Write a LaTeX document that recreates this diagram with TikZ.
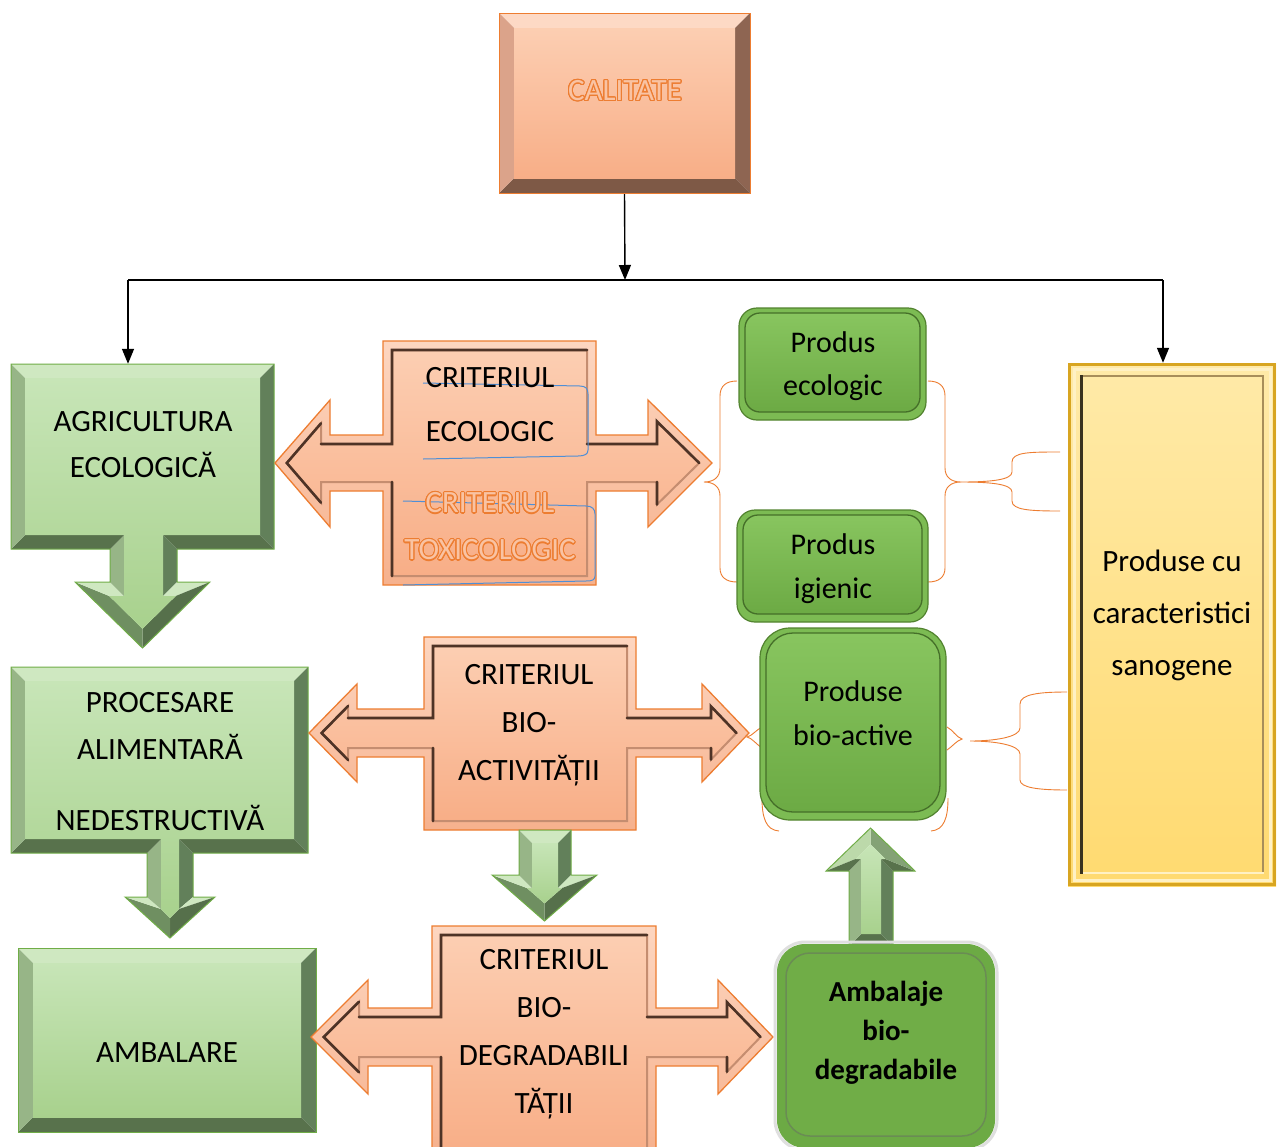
\documentclass[tikz,border=0pt]{standalone}
\usepackage{fontspec}
\setmainfont{Carlito}
\usepackage[copies]{contour}
\contourlength{1.1pt}
\contournumber{20}
\usetikzlibrary{arrows.meta}
% peach
\definecolor{pkFT}{HTML}{FCCEB2}
\definecolor{pkFB}{HTML}{F8AE87}
\definecolor{pkTop}{HTML}{FDD9C5}
\definecolor{pkLeft}{HTML}{DBA38A}
\definecolor{pkRight}{HTML}{8E6552}
\definecolor{pkBot}{HTML}{7E5946}
\definecolor{pkLine}{HTML}{ED7D31}
\definecolor{bandT}{HTML}{FDD6C0}
\definecolor{bandB}{HTML}{F6B18D}
\definecolor{stepD}{HTML}{4E3326}
\definecolor{stepM}{HTML}{C58D70}
\definecolor{orIn}{HTML}{F9C3A3}
% green bevel
\definecolor{gFT}{HTML}{C7E5B7}
\definecolor{gFB}{HTML}{A8D18D}
\definecolor{gTop}{HTML}{CFE8C1}
\definecolor{gLeft}{HTML}{97B587}
\definecolor{gRight}{HTML}{62805A}
\definecolor{gBot}{HTML}{58724C}
\definecolor{gDiagL}{HTML}{6F8F61}
\definecolor{gDiagR}{HTML}{56704B}
\definecolor{gUL}{HTML}{BCD9AA}
\definecolor{gUR}{HTML}{84A276}
\definecolor{gLine}{HTML}{70AD47}
% green buttons
\definecolor{gPo}{HTML}{7CBB53}
\definecolor{gPb}{HTML}{52832F}
\definecolor{gPt}{HTML}{88C55F}
\definecolor{gPm}{HTML}{6CAA44}
\definecolor{gPd}{HTML}{456F29}
% yellow
\definecolor{yT}{HTML}{FFEAA8}
\definecolor{yB}{HTML}{FFDA70}
\definecolor{yBord}{HTML}{D8A521}
\definecolor{yDark}{HTML}{3A321E}
\definecolor{yMid}{HTML}{A88E5A}
\definecolor{yLight}{HTML}{FFF1C4}
\definecolor{blueL}{HTML}{4F8FD6}

% ---- mitred facets
\newcommand\fq[5]{\fill[#1] #2 -- #3 -- #4 -- #5 -- cycle;}
\newcommand\bevrect[6]{%
 \fq{#6Top}{(#1,#2)}{(#3,#2)}{({#3-#5},{#2+#5})}{({#1+#5},{#2+#5})}
 \fq{#6Right}{(#3,#2)}{(#3,#4)}{({#3-#5},{#4-#5})}{({#3-#5},{#2+#5})}
 \fq{#6Bot}{(#3,#4)}{(#1,#4)}{({#1+#5},{#4-#5})}{({#3-#5},{#4-#5})}
 \fq{#6Left}{(#1,#4)}{(#1,#2)}{({#1+#5},{#2+#5})}{({#1+#5},{#4-#5})}
 \shade[top color=#6FT,bottom color=#6FB] ({#1+#5},{#2+#5}) rectangle ({#3-#5},{#4-#5});
 \draw[#6Line,line width=1pt] (#1,#2) rectangle (#3,#4);}
% criteria double arrow: uses coordinates o1..o18 (outer) and i1..i18 (inner)
\newcommand\opath{(o1) -- (o2) -- (o3) -- (o4) -- (o5) -- (o6) -- (o7) -- (o8) -- (o9) -- (o10) -- (o11) -- (o12) -- (o13) -- (o14) -- (o15) -- (o16) -- (o17) -- (o18) -- cycle}
\newcommand\ipath{(i1) -- (i2) -- (i3) -- (i4) -- (i5) -- (i6) -- (i7) -- (i8) -- (i9) -- (i10) -- (i11) -- (i12) -- (i13) -- (i14) -- (i15) -- (i16) -- (i17) -- (i18) -- cycle}
\newcommand\critdraw{%
  \shade[top color=bandT,bottom color=bandB] \opath;
  \shade[top color=pkFT,bottom color=pkFB] \ipath;
  \draw[stepM,line width=2pt] \ipath;
  \draw[stepD,line width=2.6pt,line cap=round,line join=miter] (i17) -- (i18) -- (i1) -- (i2) (i3) -- (i4) -- (i5) -- (i6) (i7) -- (i8) (i11) -- (i12) (i14) -- (i15) -- (i16);
  \draw[pkLine,line width=1.3pt] \opath;}
\newcommand\setpts[2]{\foreach \n/\p in {#2} {\path \p coordinate (#1\n);}}
\newcommand\pbutton[5]{% x1 y1 x2 y2 radius
  \fill[gPo,rounded corners=#5] (#1,#2) rectangle (#3,#4);
  \draw[gPb,line width=1.2pt,rounded corners=#5] (#1,#2) rectangle (#3,#4);
  \shade[top color=gPt,bottom color=gPm,rounded corners=#5-3pt] ({#1+6},{#2+5}) rectangle ({#3-6},{#4-8});
  \draw[gPd,line width=1.3pt,rounded corners=#5-3pt] ({#1+6},{#2+5}) rectangle ({#3-6},{#4-8});}
\newcommand\ortext[1]{\contour{pkLine}{\textcolor{orIn}{#1}}}

\begin{document}
\begin{tikzpicture}[x=1pt,y=-1pt,
  txt/.style={font=\fontsize{31}{48}\selectfont,align=center,inner sep=0pt,text=black},
  geo/.style={inner sep=0pt,draw=none},
  conn/.style={line width=1.4pt,-{Triangle[width=12pt,length=15pt]}},
  brace/.style={pkLine,line width=0.9pt},
  blue/.style={blueL,line width=1pt}]
\useasboundingbox (0,0) rectangle (1277,1146);
\fill[white] (0,0) rectangle (1277,1146);

% geometry nodes
\node[geo,minimum width=251pt,minimum height=180pt] (cal) at (624.5,103) {};
\node[geo,minimum width=263pt,minimum height=186pt] (agri) at (142.5,457) {};
\node[geo,minimum width=208pt,minimum height=523pt] (sano) at (1172,624.5) {};
\coordinate (bus) at (625,280);
\coordinate (busL) at (128,280);
\coordinate (busR) at (1163,280);

% braces (behind boxes)
\draw[brace] (737,381) .. controls (726,381) and (720,386) .. (720,396) -- (720,468) .. controls (720,477) and (714,482) .. (704,482) .. controls (714,482) and (720,487) .. (720,496) -- (720,568) .. controls (720,577) and (726,582) .. (737,582);
\draw[brace] (928,381) .. controls (939,381) and (945,386) .. (945,396) -- (945,468) .. controls (945,477) and (951,482) .. (961,482) .. controls (951,482) and (945,487) .. (945,496) -- (945,568) .. controls (945,577) and (939,582) .. (928,582);
\draw[brace] (1060,452) .. controls (1030,452) and (1012,452) .. (1012,462) -- (1012,472) .. controls (1012,480) and (990,482) .. (961,482) .. controls (990,482) and (1012,484) .. (1012,492) -- (1012,501) .. controls (1012,510) and (1030,511) .. (1060,511);
\draw[brace] (762,727) .. controls (756,730) and (752,736) .. (747,737) .. controls (752,738) and (756,744) .. (762,748);
\draw[brace] (762,798) .. controls (762,818) and (766,830) .. (779,831);
\draw[brace] (948,798) .. controls (948,818) and (944,830) .. (931,831);
\draw[brace] (947,727) .. controls (953,730) and (956,737) .. (962,739) .. controls (956,741) and (953,746) .. (947,750);
\draw[brace] (1067,692) .. controls (1040,692) and (1020,694) .. (1020,704) -- (1020,728) .. controls (1020,737) and (995,741) .. (970,741) .. controls (995,741) and (1020,745) .. (1020,754) -- (1020,780) .. controls (1020,788) and (1040,790) .. (1067,790);

% black connectors
\draw[conn] (cal.south) -- (bus);
\draw[line width=1.4pt] (busL) -- (busR);
\draw[conn] (busL) -- (busL |- agri.north);
\draw[conn] (busR) -- (busR |- sano.north);

% CALITATE and AMBALARE
\bevrect{499}{13}{750}{193}{15}{pk}
\bevrect{18}{948}{316}{1132}{15}{g}

% AGRICULTURA (box with down arrow)
\fq{gTop}{(11,364)}{(274,364)}{(260,378)}{(25,378)}
\fq{gRight}{(274,364)}{(274,549)}{(260,535)}{(260,378)}
\fq{gBot}{(274,549)}{(177,549)}{(163,535)}{(260,535)}
\fq{gRight}{(177,549)}{(177,582)}{(163,596)}{(163,535)}
\fq{gTop}{(177,582)}{(210,582)}{(175.8,596)}{(163,596)}
\fq{gDiagR}{(210,582)}{(142.5,648)}{(142.5,628.8)}{(175.8,596)}
\fq{gDiagL}{(142.5,648)}{(75,582)}{(109.2,596)}{(142.5,628.8)}
\fq{gTop}{(75,582)}{(110,582)}{(124,596)}{(109.2,596)}
\fq{gLeft}{(110,582)}{(110,549)}{(124,535)}{(124,596)}
\fq{gBot}{(110,549)}{(11,549)}{(25,535)}{(124,535)}
\fq{gLeft}{(11,549)}{(11,364)}{(25,378)}{(25,535)}
\shade[top color=gFT,bottom color=gFB] (25,378) -- (260,378) -- (260,535) -- (163,535) -- (163,596) -- (175.8,596) -- (142.5,628.8) -- (109.2,596) -- (124,596) -- (124,535) -- (25,535) -- cycle;
\draw[gLine,line width=1pt] (11,364) -- (274,364) -- (274,549) -- (177,549) -- (177,582) -- (210,582) -- (142.5,648) -- (75,582) -- (110,582) -- (110,549) -- (11,549) -- cycle;

% PROCESARE (box with down arrow)
\fq{gTop}{(11,667)}{(308,667)}{(294,681)}{(25,681)}
\fq{gRight}{(308,667)}{(308,853)}{(294,839)}{(294,681)}
\fq{gBot}{(308,853)}{(193,853)}{(179,839)}{(294,839)}
\fq{gRight}{(193,853)}{(193,897)}{(179,909)}{(179,839)}
\fq{gTop}{(193,897)}{(215,897)}{(179,909)}{(179,909)}
\fq{gDiagR}{(215,897)}{(170,938)}{(170,918)}{(179,909)}
\fq{gDiagL}{(170,938)}{(125,897)}{(161,909)}{(170,918)}
\fq{gTop}{(125,897)}{(147,897)}{(161,909)}{(161,909)}
\fq{gLeft}{(147,897)}{(147,853)}{(161,839)}{(161,909)}
\fq{gBot}{(147,853)}{(11,853)}{(25,839)}{(161,839)}
\fq{gLeft}{(11,853)}{(11,667)}{(25,681)}{(25,839)}
\shade[top color=gFT,bottom color=gFB] (25,681) -- (294,681) -- (294,839) -- (179,839) -- (179,909) -- (170,918) -- (161,909) -- (161,839) -- (25,839) -- cycle;
\draw[gLine,line width=1pt] (11,667) -- (308,667) -- (308,853) -- (193,853) -- (193,897) -- (215,897) -- (170,938) -- (125,897) -- (147,897) -- (147,853) -- (11,853) -- cycle;

% criteria arrows
\setpts{o}{1/{(383,341)},2/{(596,341)},3/{(596,435)},4/{(648,435)},5/{(648,400)},6/{(712,463)},7/{(648,527)},8/{(648,491)},9/{(596,491)},10/{(596,585)},11/{(383,585)},12/{(383,491)},13/{(330,491)},14/{(330,527)},15/{(275,463)},16/{(330,400)},17/{(330,435)},18/{(383,435)}}
\setpts{i}{1/{(392,350)},2/{(587,350)},3/{(587,444)},4/{(657,444)},5/{(657,421.5)},6/{(699.2,463)},7/{(657,504.5)},8/{(657,482)},9/{(587,482)},10/{(587,576)},11/{(392,576)},12/{(392,482)},13/{(321,482)},14/{(321,502.7)},15/{(286.8,463)},16/{(321,423.3)},17/{(321,444)},18/{(392,444)}}
\critdraw
\setpts{o}{1/{(424,637)},2/{(636,637)},3/{(636,709)},4/{(702,709)},5/{(702,684)},6/{(749,733)},7/{(702,782)},8/{(702,757)},9/{(636,757)},10/{(636,830)},11/{(424,830)},12/{(424,757)},13/{(357,757)},14/{(357,782)},15/{(309,733)},16/{(357,684)},17/{(357,709)},18/{(424,709)}}
\setpts{i}{1/{(433,646)},2/{(627,646)},3/{(627,718)},4/{(711,718)},5/{(711,706.4)},6/{(736.5,733)},7/{(711,759.6)},8/{(711,748)},9/{(627,748)},10/{(627,821)},11/{(433,821)},12/{(433,748)},13/{(348,748)},14/{(348,759.9)},15/{(321.6,733)},16/{(348,706.1)},17/{(348,718)},18/{(433,718)}}
\critdraw
\setpts{o}{1/{(432,926)},2/{(656,926)},3/{(656,1008)},4/{(718,1008)},5/{(718,980)},6/{(773,1037)},7/{(718,1094)},8/{(718,1066)},9/{(656,1066)},10/{(656,1152)},11/{(432,1152)},12/{(432,1066)},13/{(368,1066)},14/{(368,1094)},15/{(311,1037)},16/{(368,980)},17/{(368,1008)},18/{(432,1008)}}
\setpts{i}{1/{(441,935)},2/{(647,935)},3/{(647,1017)},4/{(727,1017)},5/{(727,1002.3)},6/{(760.5,1037)},7/{(727,1071.7)},8/{(727,1057)},9/{(647,1057)},10/{(647,1152)},11/{(441,1152)},12/{(441,1057)},13/{(359,1057)},14/{(359,1072.3)},15/{(323.7,1037)},16/{(359,1001.7)},17/{(359,1017)},18/{(441,1017)}}
\critdraw

% green down arrow between criteria
\fq{gTop}{(519,830)}{(571,830)}{(558,843)}{(532,843)}
\fq{gRight}{(571,830)}{(571,875)}{(558,888)}{(558,843)}
\fq{gTop}{(571,875)}{(597,875)}{(562.2,888)}{(558,888)}
\fq{gDiagR}{(597,875)}{(544.5,921)}{(544.5,903.4)}{(562.2,888)}
\fq{gDiagL}{(544.5,921)}{(492,875)}{(526.8,888)}{(544.5,903.4)}
\fq{gTop}{(492,875)}{(519,875)}{(532,888)}{(526.8,888)}
\fq{gLeft}{(519,875)}{(519,830)}{(532,843)}{(532,888)}
\shade[top color=gFT,bottom color=gFB] (532,843) -- (558,843) -- (558,888) -- (562.2,888) -- (544.5,903.4) -- (526.8,888) -- (532,888) -- cycle;
\draw[gLine,line width=1pt] (519,830) -- (571,830) -- (571,875) -- (597,875) -- (544.5,921) -- (492,875) -- (519,875) -- cycle;

% green up arrow
\fq{gBot}{(849,946)}{(893,946)}{(881,934)}{(861,934)}
\fq{gRight}{(893,946)}{(893,871)}{(881,859)}{(881,934)}
\fq{gBot}{(893,871)}{(915,871)}{(885.5,859)}{(881,859)}
\fq{gUR}{(915,871)}{(870.5,828)}{(870.5,844.3)}{(885.5,859)}
\fq{gUL}{(870.5,828)}{(826,871)}{(855.5,859)}{(870.5,844.3)}
\fq{gBot}{(826,871)}{(849,871)}{(861,859)}{(855.5,859)}
\fq{gLeft}{(849,871)}{(849,946)}{(861,934)}{(861,859)}
\shade[top color=gFT,bottom color=gFB] (861,934) -- (881,934) -- (881,859) -- (885.5,859) -- (870.5,844.3) -- (855.5,859) -- (861,859) -- cycle;
\draw[gLine,line width=1pt] (849,946) -- (893,946) -- (893,871) -- (915,871) -- (870.5,828) -- (826,871) -- (849,871) -- cycle;

% green buttons
\pbutton{739}{308}{926}{420}{18pt}
\pbutton{737}{510}{928}{622}{18pt}
\pbutton{760}{628}{946}{820}{30pt}
% ambalaje box
\draw[gray!25,line width=3pt,rounded corners=30pt] (775,942) rectangle (997,1150);
\fill[gPm,rounded corners=28pt] (777,944) rectangle (995,1148);
\fill[gLine,rounded corners=24pt] (786,953) rectangle (986,1136);
\draw[gPd!80,line width=1.5pt,rounded corners=24pt] (786,953) rectangle (986,1136);

% yellow box
\shade[top color=yT,bottom color=yB] (1068,363) rectangle (1276,886);
\draw[yBord,line width=3pt] (1069.5,364.5) rectangle (1274.5,884.5);
\draw[yLight,line width=3pt] (1074,369) rectangle (1270,880);
\draw[yMid,line width=2pt] (1080,376) -- (1264,376);
\draw[yMid,line width=2pt] (1263,376) -- (1263,873);
\draw[yLight,line width=2pt] (1080,873) -- (1264,873);
\draw[yDark,line width=3pt] (1081,375) -- (1081,874);

% blue annotation lines
\draw[blue] (423,383) -- (580,386) .. controls (586,386) and (588,389) .. (588,394) -- (588,450) .. controls (588,454) and (585,456) .. (578,456) -- (423,459);
\draw[blue] (403,501) -- (586,506) .. controls (592,506) and (595,509) .. (595,514) -- (595,576) .. controls (595,580) and (592,581) .. (586,581) -- (403,585);

% texts
\node[txt] (calT) at (625,91) {\ortext{CALITATE}};
\node[txt,font=\fontsize{31}{46}\selectfont] (agriT) at (143,445) {AGRICULTURA\\ECOLOGICĂ};
\node[txt,font=\fontsize{31}{47}\selectfont] (procT) at (160,762) {PROCESARE\\ALIMENTARĂ\\[24pt]NEDESTRUCTIVĂ};
\node[txt] (ambT) at (167,1053) {AMBALARE};
\node[txt,font=\fontsize{31}{54}\selectfont] (ecoT) at (490,405) {CRITERIUL\\ECOLOGIC};
\node[txt,font=\fontsize{31}{47}\selectfont] (toxT) at (490,527) {\ortext{CRITERIUL}\\\ortext{TOXICOLOGIC}};
\node[txt] (bioT) at (529,725) {CRITERIUL\\BIO-\\ACTIVITĂȚII};
\node[txt] (degT) at (544,1034) {CRITERIUL\\BIO-\\DEGRADABILI\\TĂȚII};
\node[txt,font=\fontsize{30}{43}\selectfont] (peT) at (833,366) {Produs\\ecologic};
\node[txt,font=\fontsize{30}{44}\selectfont] (piT) at (833,569) {Produs\\igienic};
\node[txt,font=\fontsize{30}{44}\selectfont] (pbaT) at (853,713) {Produse\\bio-active};
\node[txt,font=\bfseries\fontsize{29}{39}\selectfont] (abT) at (886,1033) {Ambalaje\\bio-\\degradabile};
\node[txt,font=\fontsize{31}{52}\selectfont] (sanoT) at (1172,615) {Produse cu\\caracteristici\\sanogene};
\end{tikzpicture}
\end{document}
